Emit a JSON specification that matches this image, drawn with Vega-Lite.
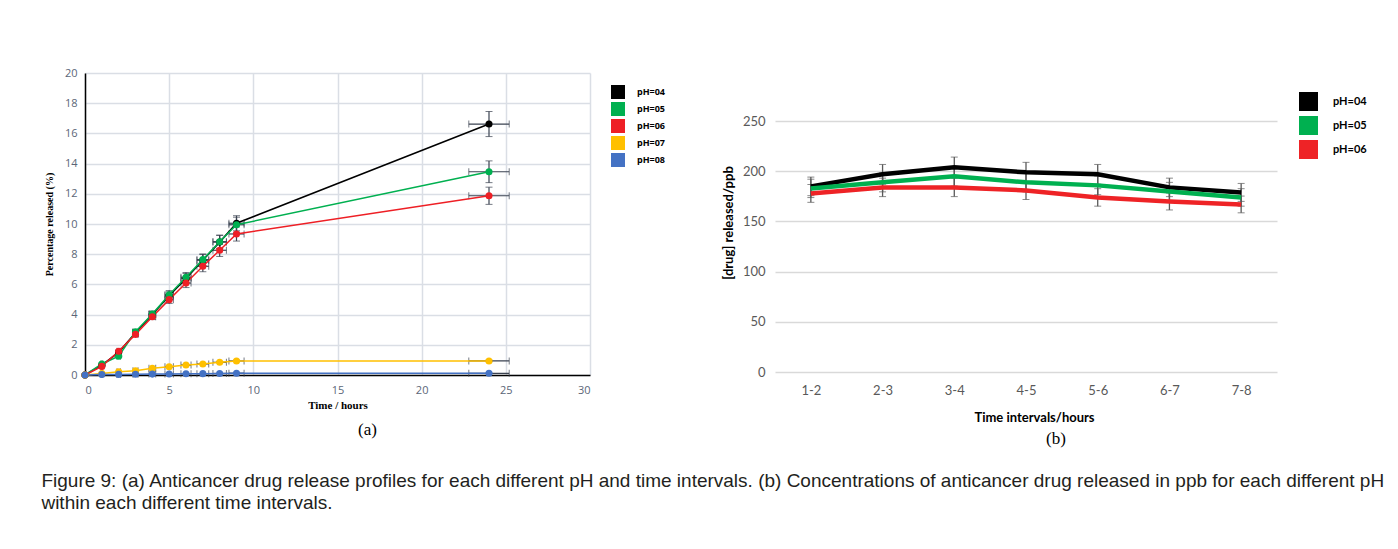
{
  "$schema": "https://vega.github.io/schema/vega-lite/v6.json",
  "background": "white",
  "padding": {"left": 41, "top": 67, "right": 5, "bottom": 5},
  "config": {
    "view": {"stroke": null},
    "axis": {"ticks": false, "labelAngle": 0}
  },
  "datasets": {
    "a": [
      {"pH": "pH=04", "t": 0, "v": 0, "te": 0, "ve": 0},
      {"pH": "pH=04", "t": 1, "v": 0.65, "te": 0.05, "ve": 0.03},
      {"pH": "pH=04", "t": 2, "v": 1.5, "te": 0.1, "ve": 0.08},
      {"pH": "pH=04", "t": 3, "v": 2.8, "te": 0.15, "ve": 0.14},
      {"pH": "pH=04", "t": 4, "v": 4.0, "te": 0.2, "ve": 0.2},
      {"pH": "pH=04", "t": 5, "v": 5.25, "te": 0.25, "ve": 0.26},
      {"pH": "pH=04", "t": 6, "v": 6.4, "te": 0.3, "ve": 0.32},
      {"pH": "pH=04", "t": 7, "v": 7.6, "te": 0.35, "ve": 0.38},
      {"pH": "pH=04", "t": 8, "v": 8.8, "te": 0.4, "ve": 0.44},
      {"pH": "pH=04", "t": 9, "v": 10.05, "te": 0.45, "ve": 0.5},
      {"pH": "pH=04", "t": 24, "v": 16.62, "te": 1.2, "ve": 0.83},
      {"pH": "pH=05", "t": 0, "v": 0, "te": 0, "ve": 0},
      {"pH": "pH=05", "t": 1, "v": 0.73, "te": 0.05, "ve": 0.04},
      {"pH": "pH=05", "t": 2, "v": 1.24, "te": 0.1, "ve": 0.06},
      {"pH": "pH=05", "t": 3, "v": 2.87, "te": 0.15, "ve": 0.14},
      {"pH": "pH=05", "t": 4, "v": 4.04, "te": 0.2, "ve": 0.2},
      {"pH": "pH=05", "t": 5, "v": 5.32, "te": 0.25, "ve": 0.27},
      {"pH": "pH=05", "t": 6, "v": 6.47, "te": 0.3, "ve": 0.32},
      {"pH": "pH=05", "t": 7, "v": 7.64, "te": 0.35, "ve": 0.38},
      {"pH": "pH=05", "t": 8, "v": 8.83, "te": 0.4, "ve": 0.44},
      {"pH": "pH=05", "t": 9, "v": 9.95, "te": 0.45, "ve": 0.5},
      {"pH": "pH=05", "t": 24, "v": 13.46, "te": 1.2, "ve": 0.72},
      {"pH": "pH=06", "t": 0, "v": 0, "te": 0, "ve": 0},
      {"pH": "pH=06", "t": 1, "v": 0.57, "te": 0.05, "ve": 0.03},
      {"pH": "pH=06", "t": 2, "v": 1.57, "te": 0.1, "ve": 0.08},
      {"pH": "pH=06", "t": 3, "v": 2.69, "te": 0.15, "ve": 0.13},
      {"pH": "pH=06", "t": 4, "v": 3.86, "te": 0.2, "ve": 0.19},
      {"pH": "pH=06", "t": 5, "v": 4.99, "te": 0.25, "ve": 0.25},
      {"pH": "pH=06", "t": 6, "v": 6.09, "te": 0.3, "ve": 0.3},
      {"pH": "pH=06", "t": 7, "v": 7.2, "te": 0.35, "ve": 0.36},
      {"pH": "pH=06", "t": 8, "v": 8.26, "te": 0.4, "ve": 0.41},
      {"pH": "pH=06", "t": 9, "v": 9.34, "te": 0.45, "ve": 0.47},
      {"pH": "pH=06", "t": 24, "v": 11.87, "te": 1.2, "ve": 0.57},
      {"pH": "pH=07", "t": 0, "v": 0, "te": 0, "ve": 0},
      {"pH": "pH=07", "t": 1, "v": 0.1, "te": 0.05, "ve": 0.01},
      {"pH": "pH=07", "t": 2, "v": 0.22, "te": 0.1, "ve": 0.01},
      {"pH": "pH=07", "t": 3, "v": 0.28, "te": 0.15, "ve": 0.01},
      {"pH": "pH=07", "t": 4, "v": 0.44, "te": 0.2, "ve": 0.02},
      {"pH": "pH=07", "t": 5, "v": 0.55, "te": 0.25, "ve": 0.03},
      {"pH": "pH=07", "t": 6, "v": 0.66, "te": 0.3, "ve": 0.03},
      {"pH": "pH=07", "t": 7, "v": 0.73, "te": 0.35, "ve": 0.04},
      {"pH": "pH=07", "t": 8, "v": 0.84, "te": 0.4, "ve": 0.04},
      {"pH": "pH=07", "t": 9, "v": 0.93, "te": 0.45, "ve": 0.05},
      {"pH": "pH=07", "t": 24, "v": 0.93, "te": 1.2, "ve": 0.05},
      {"pH": "pH=08", "t": 0, "v": 0, "te": 0, "ve": 0},
      {"pH": "pH=08", "t": 1, "v": 0.03, "te": 0.05, "ve": 0},
      {"pH": "pH=08", "t": 2, "v": 0.04, "te": 0.1, "ve": 0},
      {"pH": "pH=08", "t": 3, "v": 0.05, "te": 0.15, "ve": 0},
      {"pH": "pH=08", "t": 4, "v": 0.06, "te": 0.2, "ve": 0},
      {"pH": "pH=08", "t": 5, "v": 0.07, "te": 0.25, "ve": 0},
      {"pH": "pH=08", "t": 6, "v": 0.08, "te": 0.3, "ve": 0},
      {"pH": "pH=08", "t": 7, "v": 0.09, "te": 0.35, "ve": 0.01},
      {"pH": "pH=08", "t": 8, "v": 0.1, "te": 0.4, "ve": 0.01},
      {"pH": "pH=08", "t": 9, "v": 0.12, "te": 0.45, "ve": 0.01},
      {"pH": "pH=08", "t": 24, "v": 0.11, "te": 1.2, "ve": 0.01}
    ],
    "b": [
      {"pH": "pH=04", "iv": "1-2", "c": 185, "e": 9.25},
      {"pH": "pH=04", "iv": "2-3", "c": 197, "e": 9.85},
      {"pH": "pH=04", "iv": "3-4", "c": 204, "e": 10.2},
      {"pH": "pH=04", "iv": "4-5", "c": 199, "e": 9.95},
      {"pH": "pH=04", "iv": "5-6", "c": 197, "e": 9.85},
      {"pH": "pH=04", "iv": "6-7", "c": 184, "e": 9.2},
      {"pH": "pH=04", "iv": "7-8", "c": 179, "e": 8.95},
      {"pH": "pH=05", "iv": "1-2", "c": 183, "e": 9.15},
      {"pH": "pH=05", "iv": "2-3", "c": 189, "e": 9.45},
      {"pH": "pH=05", "iv": "3-4", "c": 195, "e": 9.75},
      {"pH": "pH=05", "iv": "4-5", "c": 189, "e": 9.45},
      {"pH": "pH=05", "iv": "5-6", "c": 186, "e": 9.3},
      {"pH": "pH=05", "iv": "6-7", "c": 180, "e": 9.0},
      {"pH": "pH=05", "iv": "7-8", "c": 174, "e": 8.7},
      {"pH": "pH=06", "iv": "1-2", "c": 178, "e": 8.9},
      {"pH": "pH=06", "iv": "2-3", "c": 184, "e": 9.2},
      {"pH": "pH=06", "iv": "3-4", "c": 184, "e": 9.2},
      {"pH": "pH=06", "iv": "4-5", "c": 181, "e": 9.05},
      {"pH": "pH=06", "iv": "5-6", "c": 174, "e": 8.7},
      {"pH": "pH=06", "iv": "6-7", "c": 170, "e": 8.5},
      {"pH": "pH=06", "iv": "7-8", "c": 167, "e": 8.35}
    ]
  },
  "title": {
    "text": ["Figure 9: (a) Anticancer drug release profiles for each different pH and time intervals. (b) Concentrations of anticancer drug released in ppb for each different pH", "within each different time intervals."],
    "orient": "bottom",
    "anchor": "start",
    "font": "Liberation Sans",
    "fontSize": 19,
    "fontWeight": "normal",
    "color": "#231f20",
    "lineHeight": 22,
    "offset": 25,
    "dx": -3
  },
  "resolve": {"scale": {"color": "independent"}, "legend": {"color": "independent"}},
  "spacing": 56,
  "hconcat": [
    {
      "width": 505,
      "height": 302,
      "data": {"name": "a"},
      "title": {"text": "(a)", "orient": "bottom", "font": "Liberation Serif", "fontSize": 17, "fontWeight": "normal", "color": "#000000", "dx": 30, "offset": 12},
      "encoding": {
        "x": {"field": "t", "type": "quantitative", "scale": {"domain": [0, 30], "nice": false},
          "axis": {"values": [0, 5, 10, 15, 20, 25, 30], "grid": true, "gridColor": "#dadee5", "gridWidth": 1.5,
            "domainColor": "#000000", "domainWidth": 1.5, "labelFont": "Open Sans", "labelFontSize": 11, "labelColor": "#5b6677", "labelPadding": 9,
            "title": "Time / hours", "titleFont": "Liberation Serif", "titleFontSize": 11, "titleFontWeight": "bold", "titleColor": "#000000", "titlePadding": 4}},
        "y": {"field": "v", "type": "quantitative", "scale": {"domain": [0, 20], "nice": false},
          "axis": {"values": [0, 2, 4, 6, 8, 10, 12, 14, 16, 18, 20], "grid": true, "gridColor": "#dadee5", "gridWidth": 1.5,
            "domainColor": "#000000", "domainWidth": 1.5, "labelFont": "Open Sans", "labelFontSize": 11, "labelColor": "#5b6677", "labelPadding": 8,
            "title": "Percentage released (%)", "titleFont": "Liberation Serif", "titleFontSize": 10, "titleFontWeight": "bold", "titleColor": "#000000", "titlePadding": 10}}
      },
      "layer": [
        {
          "mark": {"type": "errorbar", "ticks": {"size": 7, "color": "#3a4250", "strokeWidth": 1.2}, "rule": {"color": "#3a4250", "strokeWidth": 1.2}},
          "encoding": {"yError": {"field": "ve"}}
        },
        {
          "mark": {"type": "errorbar", "ticks": {"size": 7, "color": "#3a4250", "strokeWidth": 1.2}, "rule": {"color": "#3a4250", "strokeWidth": 1.2}},
          "encoding": {"xError": {"field": "te"}}
        },
        {
          "mark": {"type": "line", "strokeWidth": 1.5},
          "encoding": {
            "color": {"field": "pH", "type": "nominal",
              "scale": {"domain": ["pH=04", "pH=05", "pH=06", "pH=07", "pH=08"], "range": ["#000000", "#00b050", "#ee1f25", "#ffc000", "#4472c4"]},
              "legend": {"orient": "none", "legendX": 526, "legendY": 12, "title": null, "symbolType": "square", "symbolSize": 196, "symbolStrokeWidth": 0,
                "rowPadding": 3, "labelOffset": 12, "labelFont": "Open Sans", "labelFontSize": 9, "labelFontWeight": "bold", "labelColor": "#000000", "padding": 0}}
          }
        },
        {
          "mark": {"type": "point", "filled": true, "size": 50, "opacity": 1},
          "encoding": {"color": {"field": "pH", "type": "nominal"}}
        }
      ]
    },
    {
      "width": 502,
      "height": 299,
      "data": {"name": "b"},
      "title": {"text": "(b)", "orient": "bottom", "font": "Liberation Serif", "fontSize": 17, "fontWeight": "normal", "color": "#000000", "dx": 30, "offset": 7},
      "encoding": {
        "x": {"field": "iv", "type": "ordinal", "scale": {"type": "point", "padding": 0.5},
          "axis": {"grid": false, "domain": false, "labelDx": 16, "labelPadding": 12, "labelFont": "Lato", "labelFontSize": 13, "labelColor": "#595959",
            "title": "Time intervals/hours", "titleFont": "Lato", "titleFontSize": 13, "titleFontWeight": "bold", "titleColor": "#000000", "titlePadding": 14, "titleX": 259}},
        "y": {"field": "c", "type": "quantitative", "scale": {"domain": [0, 298], "nice": false},
          "axis": {"values": [0, 50, 100, 150, 200, 250], "grid": true, "gridColor": "#d9d9d9", "gridWidth": 1.5, "domain": false,
            "labelFont": "Lato", "labelFontSize": 13, "labelColor": "#595959", "labelPadding": 10,
            "title": "[drug] released/ppb", "titleFont": "Lato", "titleFontSize": 13, "titleFontWeight": "bold", "titleColor": "#000000", "titlePadding": 7}}
      },
      "layer": [
        {
          "mark": {"type": "errorbar", "ticks": {"size": 7, "color": "#595959", "strokeWidth": 1.3}, "rule": {"color": "#595959", "strokeWidth": 1.3}},
          "encoding": {"yError": {"field": "e"}}
        },
        {
          "mark": {"type": "line", "strokeWidth": 4.5},
          "encoding": {
            "color": {"field": "pH", "type": "nominal",
              "scale": {"domain": ["pH=04", "pH=05", "pH=06"], "range": ["#000000", "#00b050", "#ee2326"]},
              "legend": {"orient": "none", "legendX": 524, "legendY": 19, "title": null, "symbolType": "square", "symbolSize": 361, "symbolStrokeWidth": 0,
                "rowPadding": 5, "labelOffset": 15, "labelFont": "Lato", "labelFontSize": 11, "labelFontWeight": "bold", "labelColor": "#000000", "padding": 0}}
          }
        },
        {
          "mark": {"type": "point", "filled": true, "size": 0, "opacity": 1},
          "encoding": {"color": {"field": "pH", "type": "nominal"}}
        }
      ]
    }
  ]
}
